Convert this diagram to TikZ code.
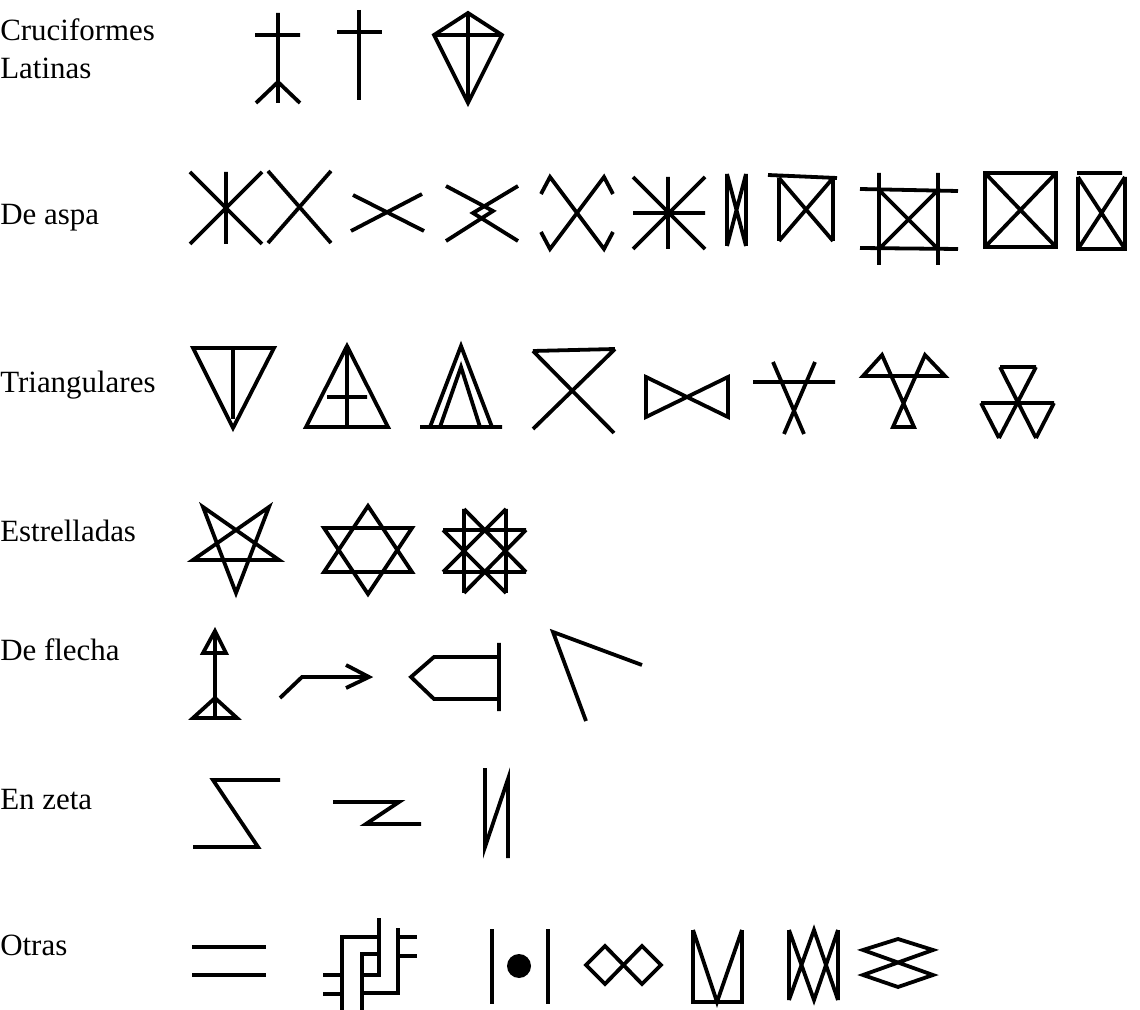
\documentclass[tikz,border=0pt]{standalone}
\usepackage{fontspec}
\setmainfont{Liberation Serif}
\tikzset{
  glyph/.style={line width=2.7pt},
  rowlabel/.style={anchor=west,inner sep=0pt,align=left,font=\fontsize{22}{27}\selectfont}
}

\begin{document}
\begin{tikzpicture}[x=0.025cm,y=-0.025cm]
\useasboundingbox (0,0) rectangle (1140,1010);
% ---- etiquetas de las filas ----
\node[rowlabel] (latinas) at (0,49) {Cruciformes\\Latinas};
\node[rowlabel] (aspa) at (0,218) {De aspa};
\node[rowlabel] (triang) at (0,385) {Triangulares};
\node[rowlabel] (estrell) at (0,531) {Estrelladas};
\node[rowlabel] (flecha) at (0,650) {De flecha};
\node[rowlabel] (zeta) at (0,800) {En zeta};
\node[rowlabel] (otras) at (0,945) {Otras};
% ---- cruciformes latinas ----
\draw[glyph] (255,35) -- (300,35) (278,13) -- (278,103) (256,103) -- (278,82) -- (300,103);
\draw[glyph] (337,32) -- (382,32) (359,10) -- (359,100);
\draw[glyph] (468,13) -- (502,35) -- (468,103) -- (434,35) -- cycle (434,35) -- (502,35) (468,13) -- (468,103);
% ---- de aspa ----
\draw[glyph] (226,172) -- (226,244) (190,172) -- (262,244) (262,172) -- (190,244);
\draw[glyph] (268,171) -- (331,243) (331,171) -- (268,243);
\draw[glyph] (353,195) -- (424,231) (351,231) -- (422,194);
\draw[glyph] (446,186) -- (493,211) -- (446,241) (518,186) -- (473,213) -- (518,241);
\draw[glyph] (541,194) -- (550,177) -- (604,249) -- (613,232) (613,194) -- (604,177) -- (550,249) -- (541,232);
\draw[glyph] (668,177) -- (668,249) (633,213) -- (705,213) (633,177) -- (705,249) (705,177) -- (633,249);
\draw[glyph] (727,174) -- (727,246) (746,174) -- (746,246) (727,174) -- (746,246) (746,174) -- (727,246);
\draw[glyph] (768,175) -- (837,178) (779,178) -- (779,241) (833,178) -- (833,241) (779,178) -- (833,241) (833,178) -- (779,241);
\draw[glyph] (860,189) -- (958,191) (860,248) -- (958,249) (879,173) -- (879,265) (938,173) -- (938,265) (879,190) -- (938,249) (938,190) -- (879,249);
\draw[glyph] (985,173) rectangle (1056,247) (985,173) -- (1056,247) (1056,173) -- (985,247);
\draw[glyph] (1077,173) -- (1122,173) (1078,177) -- (1078,249) -- (1125,249) -- (1125,177) (1078,177) -- (1125,249) (1125,177) -- (1078,249);
% ---- triangulares ----
\draw[glyph] (193,348) -- (274,348) -- (233,428) -- cycle (233,348) -- (233,419);
\draw[glyph] (347,346) -- (388,427) -- (306,427) -- cycle (347,346) -- (347,427) (327,397) -- (367,397);
\draw[glyph] (420,427) -- (502,427) (430,427) -- (461,346) -- (492,427) (440,427) -- (461,367) -- (480,427);
\draw[glyph] (533,351) -- (615,349) (533,351) -- (614,433) (615,349) -- (533,429);
\draw[glyph] (646,377) -- (646,417) -- (728,377) -- (728,417) -- cycle;
\draw[glyph] (753,382) -- (835,382) (773,362) -- (804,434) (815,362) -- (784,434);
\draw[glyph] (863,376) -- (882,355) -- (914,427) -- (893,427) -- (925,355) -- (945,376) -- cycle;
\draw[glyph] (1000,367) -- (1036,367) (1000,367) -- (1036,438) (1036,367) -- (999,438) (981,403) -- (1054,403) (981,403) -- (999,438) (1054,403) -- (1036,438);
% ---- estrelladas ----
\draw[glyph] (203,507) -- (236,593) -- (269,507) -- (193,560) -- (279,560) -- cycle;
\draw[glyph] (368,506) -- (412,572) -- (324,572) -- cycle (324,528) -- (412,528) -- (368,594) -- cycle;
\draw[glyph] (464,509) -- (464,593) (506,509) -- (506,593) (443,530) -- (526,530) (443,572) -- (526,572)
  (464,509) -- (526,572) (506,509) -- (443,572) (464,593) -- (526,530) (506,593) -- (443,530);
% ---- de flecha ----
\draw[glyph] (215,631) -- (215,718) (203,653) -- (215,631) -- (226,653) -- cycle (193,718) -- (237,718) -- (215,698) -- cycle;
\draw[glyph] (280,698) -- (302,677) -- (369,677) (346,665) -- (369,677) -- (346,688);
\draw[glyph] (499,657) -- (434,657) -- (411,677) -- (434,699) -- (499,699) (499,643) -- (499,711);
\draw[glyph] (642,665) -- (553,632) -- (586,721);
% ---- en zeta ----
\draw[glyph] (280,780) -- (213,780) -- (258,847) -- (193,847);
\draw[glyph] (333,802) -- (399,802) -- (366,824) -- (421,824);
\draw[glyph] (485,768) -- (485,847) -- (508,779) -- (508,858);
% ---- otras ----
\draw[glyph] (192,947) -- (266,947) (192,975) -- (266,975);
\draw[glyph] (342,1010) -- (342,937) -- (379,937) (379,918) -- (379,975) -- (362,975) (362,1010) -- (362,954) -- (379,954)
  (362,993) -- (398,993) -- (398,928) (323,975) -- (342,975) (323,994) -- (342,994) (398,937) -- (417,937) (398,956) -- (417,956);
\draw[glyph] (492,929) -- (492,1004) (548,929) -- (548,1004);
\fill (519,966) circle[radius=12];
\draw[glyph] (586,965) -- (605,946) -- (642,984) -- (661,965) -- (642,946) -- (605,984) -- cycle;
\draw[glyph] (693,930) -- (693,1002) -- (742,1002) -- (742,930) (693,930) -- (717,1002) -- (742,930);
\draw[glyph] (789,930) -- (789,1000) (838,930) -- (838,1000) (789,930) -- (814,1000) -- (838,930) (789,1000) -- (814,930) -- (838,1000);
\draw[glyph] (863,950) -- (898,939) -- (933,950) -- (863,975) -- (898,987) -- (933,975) -- cycle;
\end{tikzpicture}
\end{document}
